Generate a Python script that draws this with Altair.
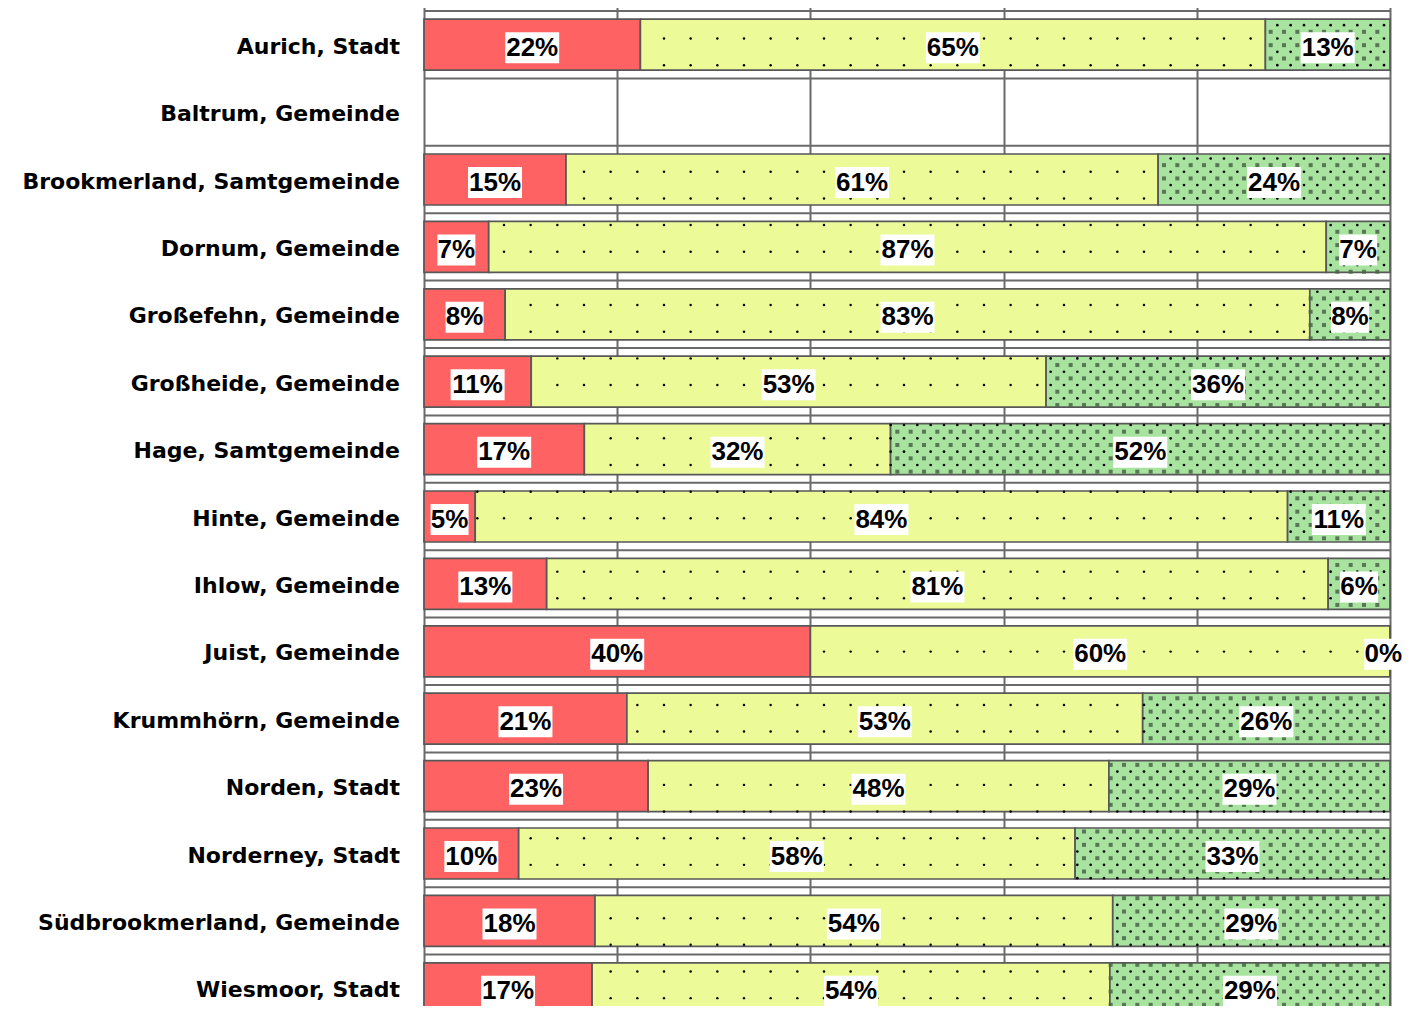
import altair as alt
import pandas as pd

names = ["Aurich, Stadt", "Baltrum, Gemeinde", "Brookmerland, Samtgemeinde",
         "Dornum, Gemeinde", "Großefehn, Gemeinde", "Großheide, Gemeinde",
         "Hage, Samtgemeinde", "Hinte, Gemeinde", "Ihlow, Gemeinde",
         "Juist, Gemeinde", "Krummhörn, Gemeinde", "Norden, Stadt",
         "Norderney, Stadt", "Südbrookmerland, Gemeinde", "Wiesmoor, Stadt"]
red = [22.4, None, 14.7, 6.7, 8.4, 11.1, 16.6, 5.3, 12.7, 40.0, 21.0, 23.2, 9.8, 17.7, 17.4]
yellow = [64.7, None, 61.3, 86.7, 83.3, 53.3, 31.7, 84.1, 80.9, 60.0, 53.4, 47.7, 57.6, 53.6, 53.6]
green = [12.9, None, 24.0, 6.6, 8.3, 35.6, 51.7, 10.6, 6.4, 0.0, 25.6, 29.1, 32.6, 28.7, 29.0]
series = ["rot", "gelb", "grün"]
colors = ["#FF6262", "#ECFA98", "#A8E4A0"]

rows = []
for i, n in enumerate(names):
    for k, (s, vals) in enumerate(zip(series, [red, yellow, green])):
        if vals[i] is not None:
            rows.append({"idx": i, "name": n, "series": s, "order": k, "value": vals[i]})
long_df = pd.DataFrame(rows)
names_df = pd.DataFrame({"idx": list(range(len(names))), "name": names})
bounds_df = pd.DataFrame({"b": list(range(len(names) + 1))})

HALF = 0.3785          # half bar thickness in row units
DX_Y, DY_Y = 2.7605, 0.3955   # coarse dot grid (yellow)
DX_G, DY_G = 1.38025, 0.19775  # fine dot grid (green)
Y0 = 0.408

# full row range is 1011px, view is cropped at the bottom like the original
yscale = alt.Scale(domain=[0, len(names)], range=[0, 1011], nice=False, zero=False)
xscale = alt.Scale(domain=[0, 100], nice=False, zero=False)
LABEL_FONT = "Liberation Sans, Arial, sans-serif"

base = alt.Chart(long_df).transform_stack(
    stack="value", groupby=["name"], as_=["start", "end"],
    sort=[alt.SortField("order", "ascending")]
).transform_calculate(
    mid="(datum.start + datum.end) / 2",
    labx="min((datum.start + datum.end) / 2, 99.3)",
    yc="datum.idx + 0.5",
    y0=f"datum.idx + 0.5 - {HALF}",
    y1=f"datum.idx + 0.5 + {HALF}",
    label="format(datum.value, '.0f') + '%'",
    by0="datum.idx + 0.5 - 0.185",
    by1="datum.idx + 0.5 + 0.275",
)

hlines = alt.Chart(bounds_df).mark_rule(color="#6a6a6a", strokeWidth=2).encode(
    x=alt.datum(0, scale=xscale), x2=alt.datum(100),
    y=alt.Y("b:Q", scale=yscale, axis=None),
)

bars = base.mark_rect(stroke="#585858", strokeWidth=1.7).encode(
    x=alt.X("start:Q", scale=xscale, title=None), x2="end:Q",
    y=alt.Y("y0:Q", scale=yscale, axis=None), y2="y1:Q",
    color=alt.Color("series:N", scale=alt.Scale(domain=series, range=colors), legend=None),
)

def dots(seg, dx, dy, xo, yo):
    return base.transform_filter(alt.datum.series == seg).transform_calculate(
        xs=f"sequence(ceil((datum.start - {xo}) / {dx}) * {dx} + {xo}, datum.end + 0.001, {dx})"
    ).transform_flatten(["xs"]).transform_calculate(
        ys=f"sequence({yo} + ceil((datum.y0 - {yo}) / {dy}) * {dy}, datum.y1 + 0.001, {dy})"
    ).transform_flatten(["ys"])

ydots = dots("gelb", DX_Y, DY_Y, 0, Y0).mark_circle(size=6, color="black", opacity=1).encode(
    x=alt.X("xs:Q", scale=xscale), y=alt.Y("ys:Q", scale=yscale, axis=None))
gsq = dots("grün", DX_G, DY_G, DX_G / 2, Y0 + DY_G / 2).mark_square(size=16, color="#4a6548", opacity=0.85).encode(
    x=alt.X("xs:Q", scale=xscale), y=alt.Y("ys:Q", scale=yscale, axis=None))
gdots = dots("grün", DX_G, DY_G, 0, Y0).mark_circle(size=7, color="black", opacity=1).encode(
    x=alt.X("xs:Q", scale=xscale), y=alt.Y("ys:Q", scale=yscale, axis=None))

box3 = base.transform_filter("length(datum.label) == 3").mark_rect(
    color="white", xOffset=-27, x2Offset=27).encode(
    x=alt.X("labx:Q", scale=xscale), x2="labx:Q",
    y=alt.Y("by0:Q", scale=yscale, axis=None), y2="by1:Q")
box2 = base.transform_filter("length(datum.label) == 2").mark_rect(
    color="white", xOffset=-19, x2Offset=19).encode(
    x=alt.X("labx:Q", scale=xscale), x2="labx:Q",
    y=alt.Y("by0:Q", scale=yscale, axis=None), y2="by1:Q")

labels = base.mark_text(font=LABEL_FONT, fontSize=26, fontWeight="bold",
                        color="black", baseline="middle", dy=3).encode(
    x=alt.X("labx:Q", scale=xscale), y=alt.Y("yc:Q", scale=yscale, axis=None),
    text="label:N")

cats = alt.Chart(names_df).transform_calculate(yc="datum.idx + 0.5").mark_text(
    font="DejaVu Sans", fontSize=22, fontWeight="bold", color="black",
    align="right", baseline="middle", dy=2).encode(
    x=alt.value(-24), y=alt.Y("yc:Q", scale=yscale, axis=None), text="name:N")

chart = alt.layer(hlines, bars, ydots, gsq, gdots, box3, box2, labels, cats).properties(
    width=966, height=995,
    autosize=alt.AutoSizeParams(type="none"),
    padding={"left": 416, "top": 3, "right": 14, "bottom": 0},
).configure_axisX(
    grid=True, gridColor="#6a6a6a", gridWidth=2, gridOpacity=1,
    labels=False, ticks=False, domain=False, tickCount=5, title=None,
).configure_view(stroke=None)

chart.save("out.html", embed_options={"renderer": "svg", "actions": False})
